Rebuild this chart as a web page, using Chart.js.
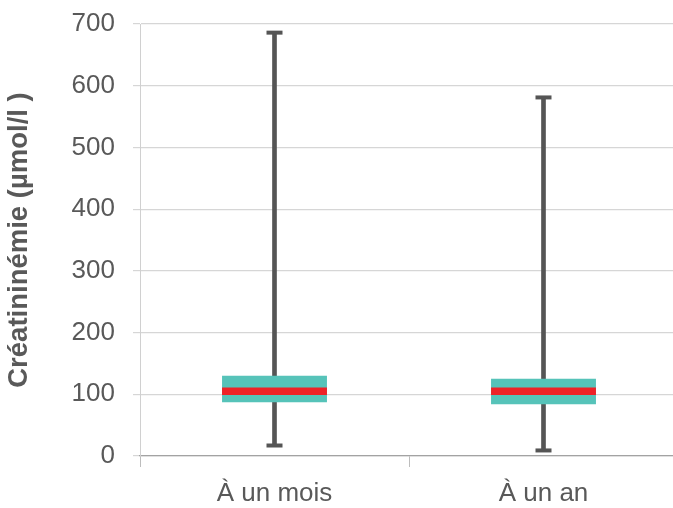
<!DOCTYPE html>
<html>
<head>
<meta charset="utf-8">
<script src="https://cdn.jsdelivr.net/npm/chart.js@4"></script>
<style>
  html, body { margin: 0; padding: 0; background: #fff; overflow: hidden; }
</style>
</head>
<body>
<canvas id="chart" width="680" height="508"></canvas>
<script>
// box plot data (µmol/l)
const categories = ['À un mois', 'À un an'];
const whiskerMin = [17, 9];
const whiskerMax = [686, 581];
const q1 = [87, 84];
const q3 = [130, 125];
const medianLow = [99, 99];
const medianHigh = [111, 111];
const yTicks = [0, 100, 200, 300, 400, 500, 600, 700];

const textColor = '#595959';
const fontFamily = '"Liberation Sans", Arial, sans-serif';

const pairs = (a, b) => a.map((v, i) => [v, b[i]]);

new Chart(document.getElementById('chart'), {
    data: {
        labels: categories,
        datasets: [
            {
                type: 'bar',
                label: 'Médiane',
                data: pairs(medianLow, medianHigh),
                backgroundColor: '#ee2227',
                barPercentage: 0.39,
                categoryPercentage: 1,
                grouped: false,
                order: 1
            },
            {
                type: 'bar',
                label: 'Q1-Q3',
                data: pairs(q1, q3),
                backgroundColor: '#56c3b9',
                barPercentage: 0.39,
                categoryPercentage: 1,
                grouped: false,
                order: 2
            },
            {
                type: 'bar',
                label: 'Min-Max',
                data: pairs(whiskerMin, whiskerMax),
                backgroundColor: '#555555',
                barThickness: 4,
                grouped: false,
                order: 3
            },
            {
                type: 'line',
                label: 'Max',
                data: whiskerMax,
                showLine: false,
                pointStyle: 'line',
                pointRadius: 8,
                pointBorderWidth: 4,
                pointBorderColor: '#555555',
                order: 0
            },
            {
                type: 'line',
                label: 'Min',
                data: whiskerMin,
                showLine: false,
                pointStyle: 'line',
                pointRadius: 8,
                pointBorderWidth: 4,
                pointBorderColor: '#555555',
                order: 0
            }
        ]
    },
    options: {
        responsive: false,
        animation: false,
        events: [],
        layout: {
            autoPadding: false,
            padding: { top: 24, right: 2, bottom: 0, left: 0 }
        },
        plugins: {
            legend: { display: false },
            tooltip: { enabled: false }
        },
        scales: {
            x: {
                offset: true,
                afterFit: (scale) => { scale.height = 52; },
                grid: {
                    offset: true,
                    drawOnChartArea: false,
                    tickLength: 11,
                    color: '#bdbdbd'
                },
                border: { color: '#a3a3a3', width: 1.3 },
                ticks: {
                    color: textColor,
                    padding: 11,
                    font: { family: fontFamily, size: 26 }
                }
            },
            y: {
                min: 0,
                max: 700,
                afterFit: (scale) => {
                    scale.width = 140;
                    scale.paddingTop = 0;
                    scale.paddingBottom = 0;
                },
                afterBuildTicks: (scale) => {
                    scale.ticks = yTicks.map(v => ({ value: v }));
                },
                grid: {
                    color: '#d6d6d6',
                    tickLength: 7,
                    lineWidth: 1.2
                },
                border: { color: '#d0d0d0' },
                ticks: {
                    color: textColor,
                    padding: 18,
                    font: { family: fontFamily, size: 26 }
                },
                title: {
                    display: true,
                    text: 'Créatininémie (µmol/l )',
                    color: textColor,
                    padding: { top: 3, bottom: 0 },
                    font: { family: fontFamily, size: 27.5, weight: 'bold' }
                }
            }
        }
    }
});
</script>
</body>
</html>
